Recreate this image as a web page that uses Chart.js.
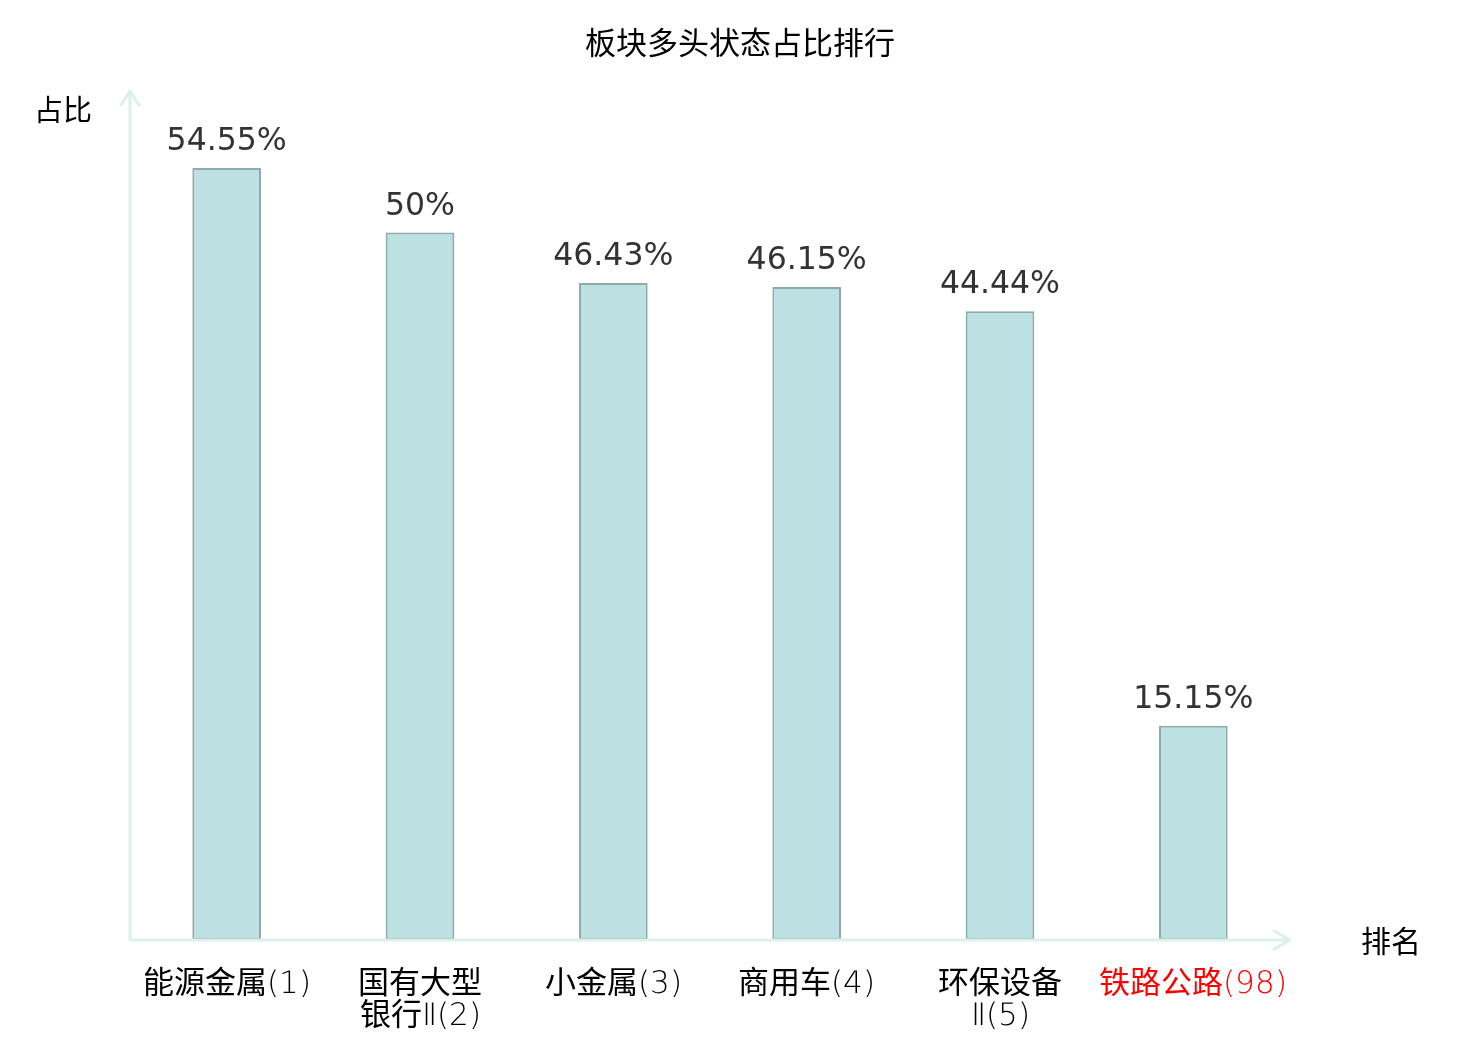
<!DOCTYPE html>
<html>
<head>
<meta charset="utf-8">
<script src="https://cdn.jsdelivr.net/npm/chart.js@4.4.1/dist/chart.umd.min.js"></script>
<style>
  html, body { margin: 0; padding: 0; background: #ffffff; }
  #wrap { width: 1480px; height: 1040px; }
  /* thin latin digits, regular CJK glyphs, like the original labels */
  @font-face {
    font-family: "TickMix";
    src: local("DejaVu Sans ExtraLight"), local("DejaVuSans-ExtraLight");
    unicode-range: U+0000-2FFF;
  }
  @font-face {
    font-family: "TickMix";
    src: local("Noto Sans CJK SC"), local("Noto Sans CJK SC Regular"), local("NotoSansCJKsc-Regular");
    unicode-range: U+3000-9FFF, U+FF00-FFEF;
  }
</style>
</head>
<body>
<div id="wrap"><canvas id="rank-chart" width="1480" height="1040"></canvas></div>
<script>
// data
var categories = [
    ['能源金属(1)'],
    ['国有大型', '银行Ⅱ(2)'],
    ['小金属(3)'],
    ['商用车(4)'],
    ['环保设备', 'Ⅱ(5)'],
    ['铁路公路(98)']
];
var shares = [54.55, 50, 46.43, 46.15, 44.44, 15.15];
var shareLabels = ['54.55%', '50%', '46.43%', '46.15%', '44.44%', '15.15%'];
var labelColors = ['#000000', '#000000', '#000000', '#000000', '#000000', '#ff0000'];

var CJK = '"Noto Sans CJK SC", "DejaVu Sans", sans-serif';
var TICKFONT = '"TickMix", "Noto Sans CJK SC", sans-serif';

// axes with arrows, title, axis names and value labels
var decorPlugin = {
    id: 'decor',
    afterDatasetsDraw: function(chart) {
        var ctx = chart.ctx;
        var area = chart.chartArea;
        ctx.save();

        // axis lines
        ctx.strokeStyle = '#dcf1ee';
        ctx.lineWidth = 3;
        ctx.lineCap = 'round';
        ctx.lineJoin = 'round';
        ctx.beginPath();
        ctx.moveTo(area.left, area.bottom);
        ctx.lineTo(area.left, area.top);
        ctx.moveTo(area.left - 9, area.top + 14);
        ctx.lineTo(area.left, area.top);
        ctx.lineTo(area.left + 9, area.top + 14);
        ctx.moveTo(area.left, area.bottom);
        ctx.lineTo(area.right, area.bottom);
        ctx.moveTo(area.right - 16, area.bottom - 9);
        ctx.lineTo(area.right, area.bottom);
        ctx.lineTo(area.right - 16, area.bottom + 9);
        ctx.stroke();

        // title + axis names
        ctx.fillStyle = '#000000';
        ctx.textAlign = 'center';
        ctx.textBaseline = 'middle';
        ctx.font = '31px ' + CJK;
        ctx.fillText('板块多头状态占比排行', 740, 42);
        ctx.font = '29px ' + CJK;
        ctx.fillText('占比', 63, 110);
        ctx.font = '30px ' + CJK;
        ctx.fillText('排名', 1391, 941);

        // value labels above bars
        ctx.fillStyle = '#333333';
        ctx.font = '31.5px "DejaVu Sans", sans-serif';
        ctx.textBaseline = 'alphabetic';
        var meta = chart.getDatasetMeta(0);
        meta.data.forEach(function(bar, i) {
            ctx.fillText(shareLabels[i], bar.x, bar.y - 18);
        });
        ctx.restore();
    }
};

function drawChart() {
    var rank_chart = document.getElementById('rank-chart').getContext('2d');
    var render_rank_chart = new Chart(rank_chart,
    {
        type: 'bar',
        data:
            {
                labels: categories,
                datasets:
                [{
                    data: shares,
                    backgroundColor: '#bde0e3',
                    borderColor: '#8eaaa9',
                    borderWidth: 2,
                    borderSkipped: false,
                    categoryPercentage: 1,
                    barPercentage: 0.355
                }]
            },
        options:
            {
                responsive: false,
                animation: false,
                devicePixelRatio: 1,
                layout: {
                    padding: { left: 130, right: 190, top: 91, bottom: 0 }
                },
                plugins: {
                    legend: { display: false },
                    title: { display: false },
                    tooltip: { enabled: false }
                },
                scales: {
                    x: {
                        grid: { display: false, drawTicks: false },
                        border: { display: false },
                        afterFit: function(scale) { scale.height = 100; },
                        ticks: {
                            padding: 29,
                            maxRotation: 0,
                            autoSkip: false,
                            color: labelColors,
                            font: { family: TICKFONT, size: 31, lineHeight: 1.03 }
                        }
                    },
                    y: {
                        display: false,
                        min: 0,
                        max: 60
                    }
                }
            },
        plugins: [decorPlugin]
    });
}

// wait for the local font faces before painting
document.fonts.load('31px "TickMix"', '能(1)Ⅱ').then(drawChart, drawChart);
</script>
</body>
</html>
